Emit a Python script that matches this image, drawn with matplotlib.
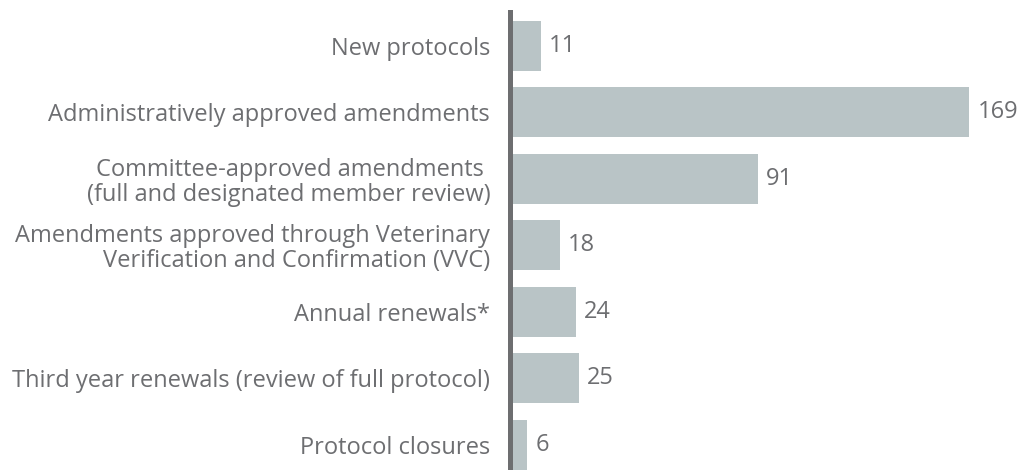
import matplotlib
matplotlib.use("Agg")
import matplotlib.pyplot as plt
from matplotlib.lines import Line2D

categories = [
    "New protocols",
    "Administratively approved amendments",
    "Committee-approved amendments \n(full and designated member review)",
    "Amendments approved through Veterinary\nVerification and Confirmation (VVC)",
    "Annual renewals*",
    "Third year renewals (review of full protocol)",
    "Protocol closures",
]
values = [11, 169, 91, 18, 24, 25, 6]

plt.rcParams['font.family'] = ['Open Sans', 'DejaVu Sans']
text_color = "#6d6e71"
bar_color = "#b9c4c6"

W, H = 1024, 470
fig = plt.figure(figsize=(W / 100, H / 100), dpi=100)
x0 = 511
ax = fig.add_axes([x0 / W, 0, (W - x0) / W, 458 / H])
ypos = list(range(len(categories)))
ax.barh(ypos, values, height=0.75, color=bar_color, zorder=1)
ax.set_xlim(0, (W - x0) / 2.71)
ax.set_ylim(6.38, -0.51)
for s in ax.spines.values():
    s.set_visible(False)
fig.add_artist(Line2D([509.5 / W, 509.5 / W], [0, 458 / H], color="#6d6e70",
                      lw=3.6, transform=fig.transFigure))
ax.set_xticks([])
ax.set_yticks(ypos)
ax.set_yticklabels(categories, fontsize=17, color=text_color, linespacing=1.05)
ax.tick_params(axis='y', length=0, pad=15)
for lbl in ax.get_yticklabels():
    lbl.set_horizontalalignment('right')
for y, v in zip(ypos, values):
    ax.annotate(str(v), (v, y), xytext=(6, 0), textcoords='offset points',
                va='center', ha='left', fontsize=17, color=text_color)
fig.savefig("out.png", dpi=100)
